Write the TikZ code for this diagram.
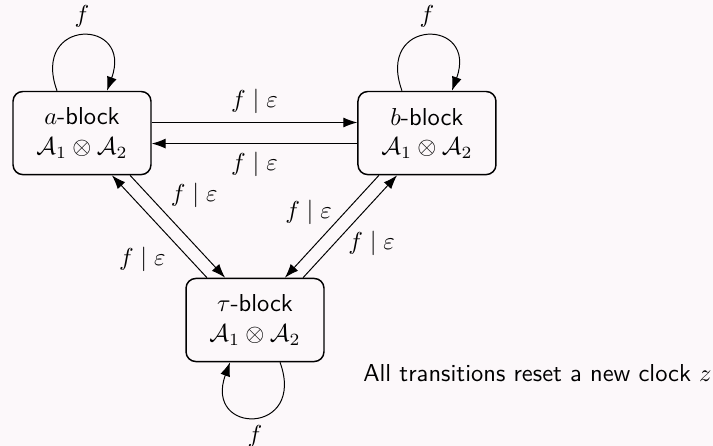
\documentclass[tikz,border=0pt]{standalone}
\usepackage{amssymb,amsmath}
\usetikzlibrary{arrows.meta}
\definecolor{paper}{RGB}{252,248,250}
\tikzstyle{blockstate}=[draw,semithick,rounded corners=4pt,minimum width=56.3pt,minimum height=33.9pt,align=center,font=\sffamily]
\tikzstyle{trans}=[-{Latex[length=5.7pt,width=4.1pt]}]
\newcommand{\prodaut}{$\mathcal{A}_1\otimes\mathcal{A}_2$}
\newcommand{\transl}{$f \mid \varepsilon$}

\begin{document}
\begin{tikzpicture}
	% page and its margins
	\fill[paper] (0,0) rectangle (10.225,6.396);
	\useasboundingbox (0,0) rectangle (10.225,6.396);
	% the three blocks
	\node[blockstate] (ablock) at (1.176,4.488) {$a$-block\\ \prodaut};
	\node[blockstate] (bblock) at (6.123,4.488) {$b$-block\\ \prodaut};
	\node[blockstate] (tblock) at (3.657,1.807) {$\tau$-block\\ \prodaut};
	% self loops
	\draw[trans] ([xshift=-10.2pt]ablock.north) to[out=110,in=70,distance=31.8pt] node[above] {$f$} ([xshift=10.2pt]ablock.north);
	\draw[trans] ([xshift=-10.2pt]bblock.north) to[out=110,in=70,distance=31.8pt] node[above] {$f$} ([xshift=10.2pt]bblock.north);
	\draw[trans] ([xshift=10.2pt]tblock.south) to[out=-70,in=-110,distance=31.8pt] node[below] {$f$} ([xshift=-10.2pt]tblock.south);
	% a <-> b
	\draw[trans] ([yshift=4.3pt]ablock.east) -- node[above] {\transl} ([yshift=4.3pt]bblock.west);
	\draw[trans] ([yshift=-4.3pt]bblock.west) -- node[below] {\transl} ([yshift=-4.3pt]ablock.east);
	% a <-> tau
	\draw[trans] ([xshift=19.6pt]ablock.south) -- node[pos=0.2,right=5.4pt] {\transl} ([xshift=-12.2pt]tblock.north);
	\draw[trans] ([xshift=-19.6pt]tblock.north) -- node[pos=0.18,left=6.4pt] {\transl} ([xshift=12.2pt]ablock.south);
	% b <-> tau
	\draw[trans] ([xshift=-19.6pt]bblock.south) -- node[pos=0.36,left=1.9pt] {\transl} ([xshift=12.2pt]tblock.north);
	\draw[trans] ([xshift=19.6pt]tblock.north) -- node[pos=0.34,right=1.9pt] {\transl} ([xshift=-12.2pt]bblock.south);
	% note
	\node (note) at (7.708,1.047) {\sffamily All transitions reset a new clock $z$};
\end{tikzpicture}
\end{document}
